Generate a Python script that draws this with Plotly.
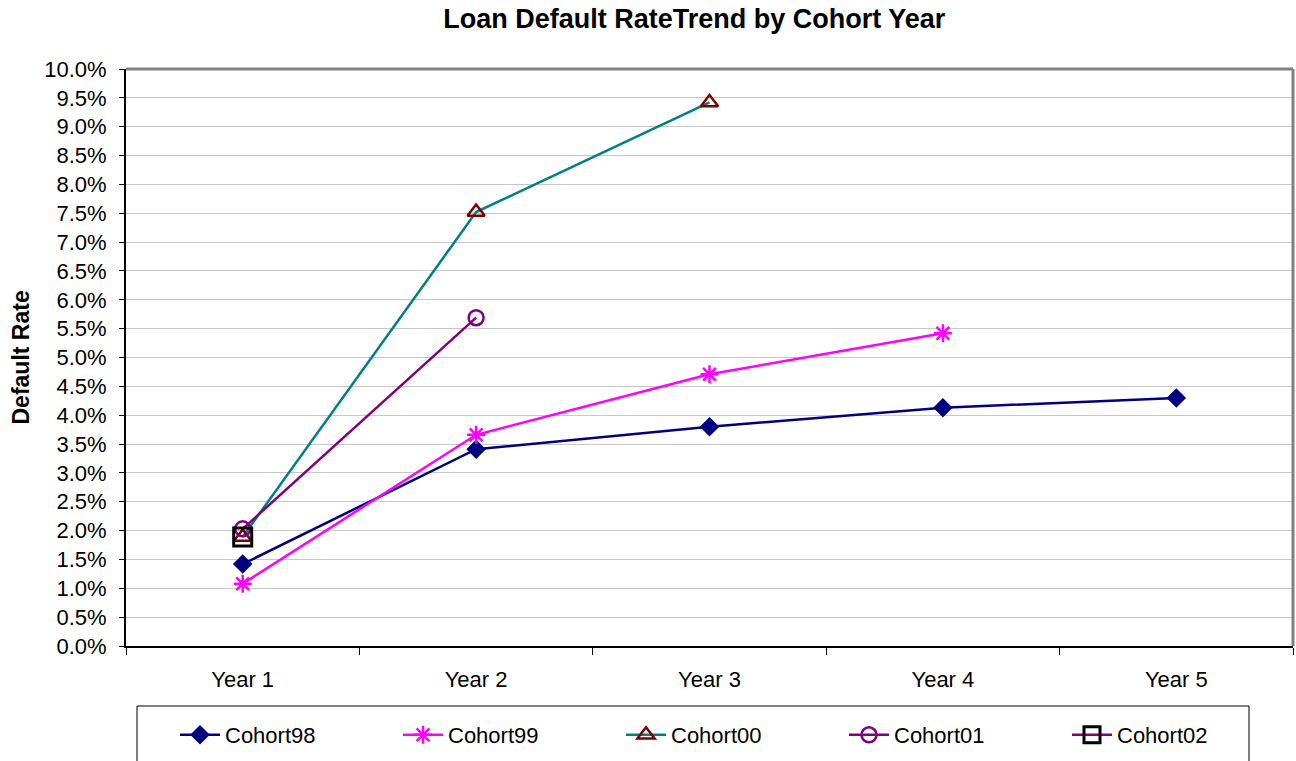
import plotly.graph_objects as go

years = ["Year 1", "Year 2", "Year 3", "Year 4", "Year 5"]
cohort98 = [0.0142, 0.0341, 0.0380, 0.0413, 0.0430]
cohort99 = [0.0108, 0.0366, 0.0471, 0.0542]
cohort00 = [0.0189, 0.0752, 0.0942]
cohort01 = [0.0203, 0.0569]
cohort02 = [0.0189]
y_ticks = [i * 0.005 for i in range(21)]

fig = go.Figure()
fig.add_trace(go.Scatter(x=years[:len(cohort98)], y=cohort98, name="Cohort98", mode="lines+markers",
                         line=dict(color="#000080", width=2.5),
                         marker=dict(symbol="diamond", size=15, color="#000080")))
fig.add_trace(go.Scatter(x=years[:len(cohort99)], y=cohort99, name="Cohort99", mode="lines+markers",
                         line=dict(color="#FF00FF", width=2.5),
                         marker=dict(symbol="asterisk-open", size=15, color="#FF00FF",
                                     line=dict(color="#FF00FF", width=2.5))))
fig.add_trace(go.Scatter(x=years[:len(cohort00)], y=cohort00, name="Cohort00", mode="lines+markers",
                         line=dict(color="#008080", width=2.5),
                         marker=dict(symbol="triangle-up-open", size=15, color="#800000",
                                     line=dict(color="#800000", width=2.5))))
fig.add_trace(go.Scatter(x=years[:len(cohort01)], y=cohort01, name="Cohort01", mode="lines+markers",
                         line=dict(color="#800080", width=2.5),
                         marker=dict(symbol="circle-open", size=15, color="#800080",
                                     line=dict(color="#800080", width=2.5))))
fig.add_trace(go.Scatter(x=years[:len(cohort02)], y=cohort02, name="Cohort02", mode="lines+markers",
                         line=dict(color="#800080", width=2.5),
                         marker=dict(symbol="square-open", size=18, color="#000000",
                                     line=dict(color="#000000", width=3))))

fig.update_layout(
    width=1296, height=761,
    margin=dict(l=126, r=3, t=69, b=115),
    paper_bgcolor="white", plot_bgcolor="white",
    font=dict(family="Arial, Liberation Sans, sans-serif", size=22, color="black"),
    title=dict(text="<b>Loan Default RateTrend by Cohort Year</b>", x=0.487, xref="paper",
               xanchor="center", y=1 - 19 / 761, yanchor="middle",
               font=dict(size=27, color="black")),
    showlegend=True,
    legend=dict(orientation="h", x=(175 - 126) / 1167, xanchor="left",
                xref="paper", yref="container",
                y=1 - 714 / 761, yanchor="top",
                entrywidth=168, entrywidthmode="pixels",
                font=dict(size=22), bgcolor="rgba(0,0,0,0)", borderwidth=0,
                itemwidth=40, traceorder="normal"),
    xaxis=dict(type="category", categoryorder="array", categoryarray=years,
               range=[-0.5, 4.5], tickson="boundaries", ticks="outside", ticklen=7,
               tickcolor="black", tickwidth=1, showgrid=False, showline=True,
               linecolor="black", linewidth=2, zeroline=False, ticklabelstandoff=13),
    yaxis=dict(range=[0, 0.1], tickvals=y_ticks, tickformat=".1%", ticks="outside",
               ticklen=5, tickcolor="black", showgrid=True, gridcolor="#c8c8c8",
               gridwidth=1, showline=True, linecolor="black", linewidth=2,
               zeroline=False, ticklabelstandoff=8),
    annotations=[dict(text="<b>Default Rate</b>", textangle=-90, xref="paper", yref="paper",
                      x=(20 - 126) / 1167, y=0.5, xanchor="center", yanchor="middle",
                      showarrow=False, font=dict(size=23, color="black"))],
    shapes=[
        dict(type="line", xref="paper", yref="paper", x0=0, x1=1, y0=1, y1=1,
             line=dict(color="#808080", width=3)),
        dict(type="line", xref="paper", yref="paper", x0=1, x1=1, y0=0, y1=1,
             line=dict(color="#808080", width=3)),
        dict(type="rect", xref="paper", yref="paper",
             x0=(137 - 126) / 1167, x1=(1249 - 126) / 1167,
             y0=(646 - 780) / 577, y1=(646 - 706) / 577,
             line=dict(color="black", width=1), fillcolor="rgba(0,0,0,0)"),
    ],
)

fig.write_html("out.html")
